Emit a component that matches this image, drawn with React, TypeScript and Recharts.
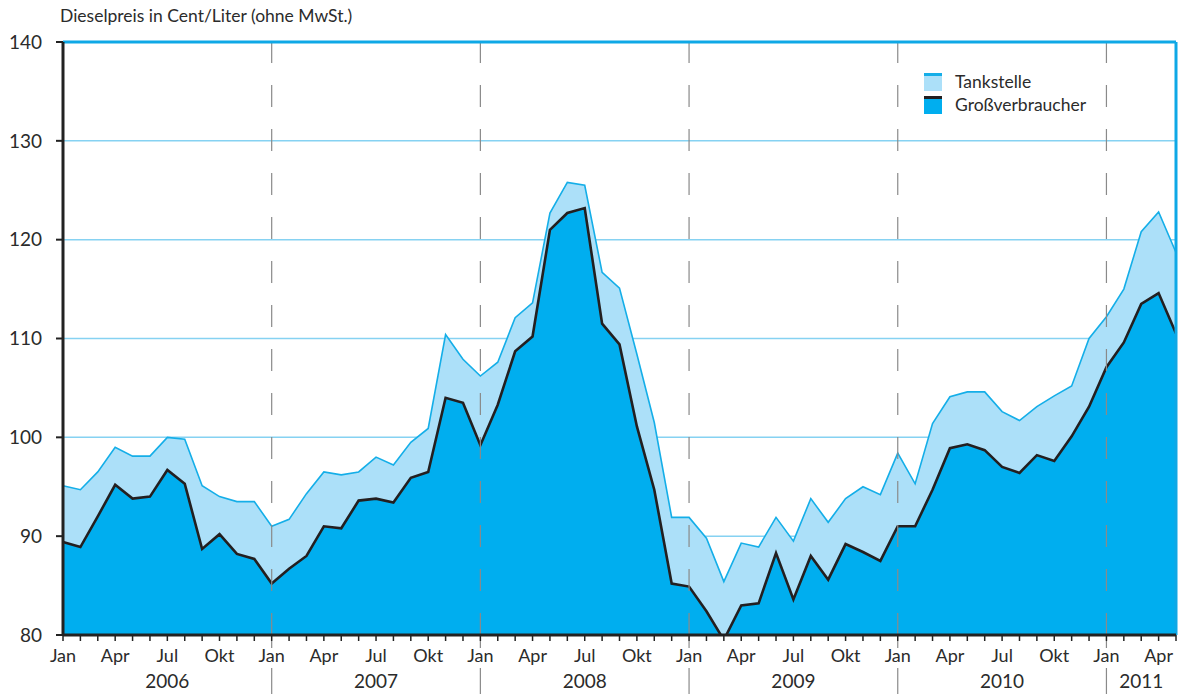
import { AreaChart, Area, XAxis, YAxis, CartesianGrid, ReferenceLine, Legend } from "recharts";

const YEARS = [2006, 2007, 2008, 2009, 2010, 2011];
const MONTH_LABELS = ["Jan", "", "", "Apr", "", "", "Jul", "", "", "Okt", "", ""];

// Tankstelle, Jan 2006 – Mai 2011 (Cent/Liter ohne MwSt.)
const tankstelle = [
  95.1, 94.7, 96.5, 99.0, 98.1, 98.1, 100.0, 99.8, 95.1, 94.0, 93.5, 93.5,
  91.0, 91.7, 94.3, 96.5, 96.2, 96.5, 98.0, 97.2, 99.5, 100.9, 110.4, 107.9,
  106.2, 107.6, 112.1, 113.6, 122.7, 125.8, 125.5, 116.7, 115.1, 108.4, 101.5, 91.9,
  91.9, 89.8, 85.4, 89.3, 88.9, 91.9, 89.5, 93.8, 91.4, 93.8, 95.0, 94.2,
  98.4, 95.3, 101.4, 104.1, 104.6, 104.6, 102.6, 101.7, 103.1, 104.2, 105.2, 110.0,
  112.2, 115.0, 120.8, 122.8, 118.7,
];

// Großverbraucher
const grossverbraucher = [
  89.4, 88.9, 92.0, 95.2, 93.8, 94.0, 96.7, 95.3, 88.7, 90.2, 88.2, 87.7,
  85.2, 86.7, 88.0, 91.0, 90.8, 93.6, 93.8, 93.4, 95.9, 96.5, 104.0, 103.5,
  99.2, 103.3, 108.7, 110.2, 121.0, 122.7, 123.2, 111.5, 109.4, 101.1, 94.7, 85.2,
  84.9, 82.4, 79.5, 83.0, 83.2, 88.3, 83.6, 88.0, 85.6, 89.2, 88.4, 87.5,
  91.0, 91.0, 94.7, 98.9, 99.3, 98.7, 97.0, 96.4, 98.2, 97.6, 100.1, 103.1,
  107.1, 109.6, 113.5, 114.6, 110.5,
];

const Y_TICKS = [80, 90, 100, 110, 120, 130, 140];

const data = tankstelle.map((t, i) => ({ i, tankstelle: t, gross: grossverbraucher[i] }));
const lastIndex = data.length - 1;
const monthTicks = data.map((d) => d.i);
const yearStarts = YEARS.map((_, k) => k * 12).filter((v) => v > 0 && v <= lastIndex);

// year label sits in the middle of its months (Jan .. next Jan, or last month)
const yearCenter = (k: number) => (k * 12 + Math.min((k + 1) * 12, lastIndex)) / 2;

const FONT = "Lato, 'DejaVu Sans', sans-serif";
const TEXT = "#2b2b2b";

const MonthTick = (props: any) => {
  const { x, payload } = props;
  const i = payload.value as number;
  const m = i % 12;
  const k = Math.floor(i / 12);
  const label = MONTH_LABELS[m];
  const showYear = yearCenter(k) === i;
  return (
    <g>
      {label && (
        <text x={x} y={662} textAnchor="middle" fontSize={18} fill={TEXT} fontFamily={FONT}>
          {label}
        </text>
      )}
      {showYear && (
        <text x={x} y={688} textAnchor="middle" fontSize={19} fill={TEXT} fontFamily={FONT}>
          {YEARS[k]}
        </text>
      )}
      {m === 0 && i > 0 && (
        <>
          <line x1={x} x2={x} y1={641} y2={648} stroke="#8a8a8a" strokeWidth={1.2} />
          <line x1={x} x2={x} y1={668} y2={694} stroke="#8a8a8a" strokeWidth={1.2} />
        </>
      )}
    </g>
  );
};

const LegendBox = () => {
  const items = [
    { name: "Tankstelle", fill: "#ace0f9", top: "#14aee8" },
    { name: "Großverbraucher", fill: "#00aeef", top: "#231f20" },
  ];
  return (
    <div style={{ fontFamily: FONT, fontSize: 17.5, color: TEXT }}>
      {items.map((it) => (
        <div key={it.name} style={{ display: "flex", alignItems: "center", height: 23 }}>
          <span
            style={{
              display: "inline-block",
              width: 18,
              height: 15,
              background: it.fill,
              borderTop: `3px solid ${it.top}`,
              marginRight: 13,
            }}
          />
          <span>{it.name}</span>
        </div>
      ))}
    </div>
  );
};

export default function App() {
  return (
    <div style={{ position: "absolute", left: 0, top: 0, width: 1178, height: 694, background: "#fff" }}>
      <div
        style={{
          position: "absolute",
          left: 60,
          top: 5,
          fontFamily: FONT,
          fontSize: 17.5,
          color: TEXT,
          whiteSpace: "nowrap",
        }}
      >
        Dieselpreis in Cent/Liter (ohne MwSt.)
      </div>
      <AreaChart width={1178} height={694} data={data} margin={{ top: 42, right: 2, bottom: 0, left: 0 }}>
        <CartesianGrid vertical={false} stroke="#86d2f2" strokeWidth={1.5} />
        <XAxis
          dataKey="i"
          type="number"
          domain={[0, lastIndex]}
          ticks={monthTicks}
          interval={0}
          height={59}
          tick={<MonthTick />}
          tickSize={6}
          tickLine={{ stroke: "#222", strokeWidth: 1.5 }}
          axisLine={{ stroke: "#222", strokeWidth: 3 }}
        />
        <YAxis
          domain={[80, 140]}
          ticks={Y_TICKS}
          allowDataOverflow
          width={63}
          tickSize={7}
          tickMargin={14}
          tick={{ fontSize: 19, fill: TEXT, fontFamily: FONT }}
          tickLine={{ stroke: "#222", strokeWidth: 2 }}
          axisLine={{ stroke: "#222", strokeWidth: 3 }}
        />
        <Area
          type="linear"
          dataKey="tankstelle"
          name="Tankstelle"
          stroke="#14aee8"
          strokeWidth={1.6}
          fill="#ace0f9"
          fillOpacity={1}
          isAnimationActive={false}
        />
        <Area
          type="linear"
          dataKey="gross"
          name="Großverbraucher"
          stroke="#231f20"
          strokeWidth={2.6}
          fill="#00aeef"
          fillOpacity={1}
          isAnimationActive={false}
        />
        {yearStarts.map((v) => (
          <ReferenceLine key={v} x={v} stroke="#8a8a8a" strokeWidth={1.2} strokeDasharray="22 22" />
        ))}
        <ReferenceLine y={140} stroke="#0ea8e6" strokeWidth={3} />
        <ReferenceLine x={lastIndex} stroke="#0ea8e6" strokeWidth={3} />
        <Legend
          layout="vertical"
          align="center"
          verticalAlign="middle"
          content={<LegendBox />}
          wrapperStyle={{ left: 924, top: 70, width: 220 }}
        />
      </AreaChart>
    </div>
  );
}
